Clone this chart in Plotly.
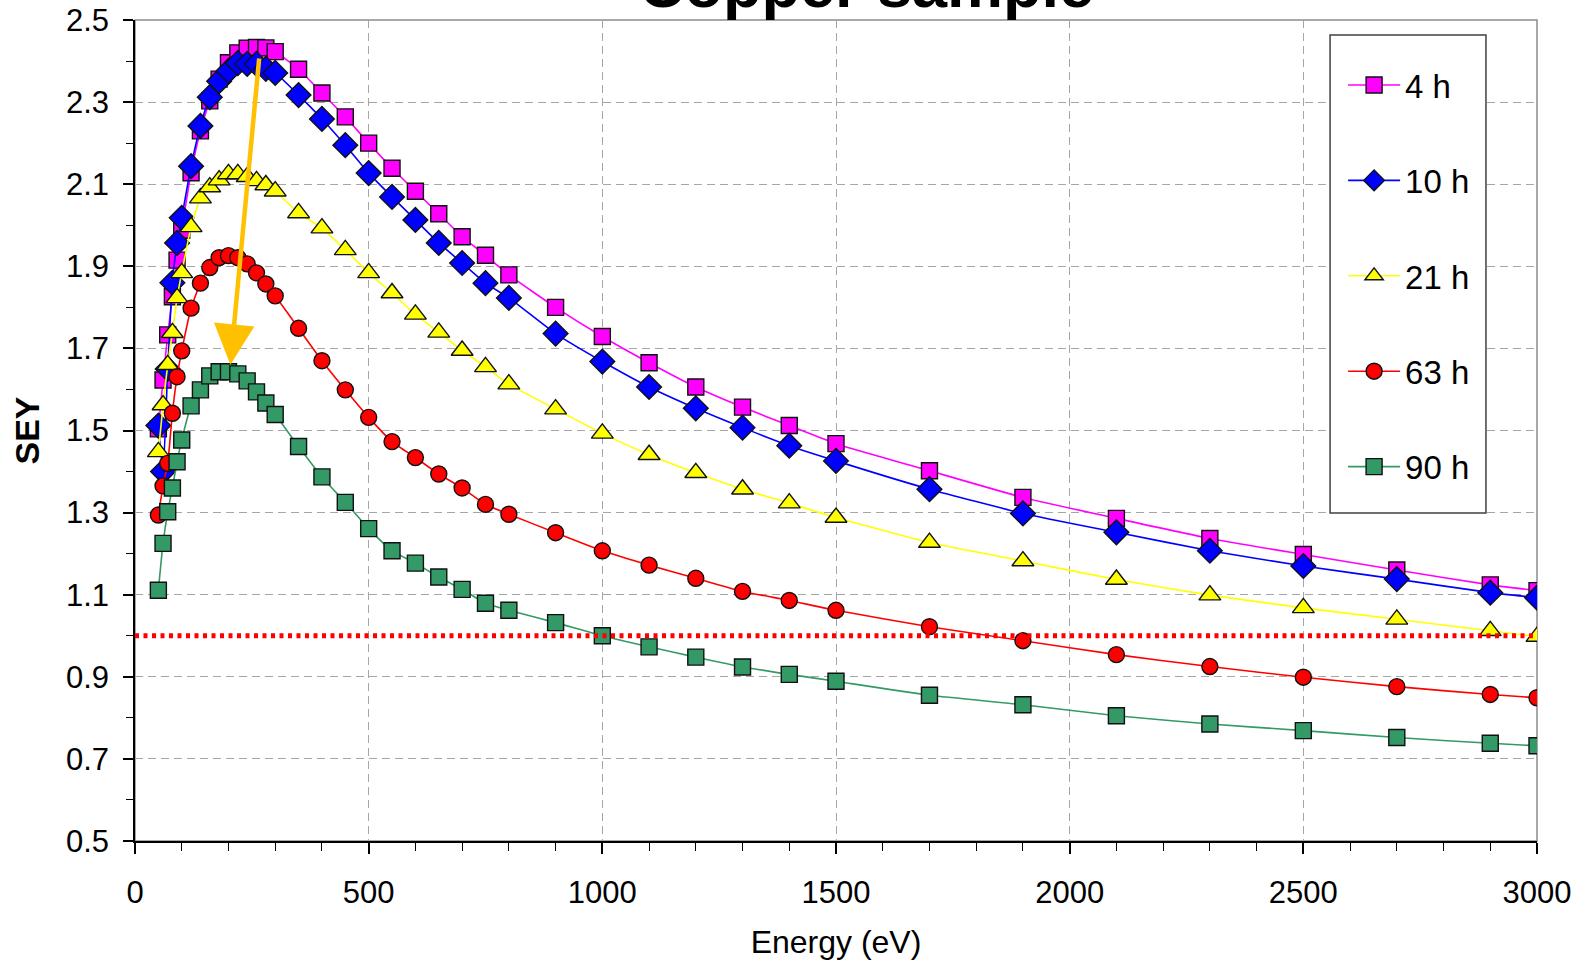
import plotly.graph_objects as go

energy = [50, 60, 70, 80, 90, 100, 120, 140, 160, 180, 200, 220, 240, 260, 280, 300,
          350, 400, 450, 500, 550, 600, 650, 700, 750, 800, 900, 1000, 1100, 1200,
          1300, 1400, 1500, 1700, 1900, 2100, 2300, 2500, 2700, 2900, 3000]

sey_4h = [1.504, 1.623, 1.733, 1.826, 1.915, 1.988, 2.128, 2.230, 2.303, 2.356, 2.396,
          2.420, 2.431, 2.433, 2.432, 2.423, 2.380, 2.322, 2.264, 2.200, 2.139, 2.083,
          2.028, 1.972, 1.927, 1.879, 1.800, 1.729, 1.665, 1.606, 1.557, 1.512, 1.468,
          1.402, 1.337, 1.286, 1.237, 1.198, 1.160, 1.124, 1.110]
sey_10h = [1.512, 1.400, 1.650, 1.860, 1.957, 2.018, 2.144, 2.242, 2.312, 2.351, 2.376,
           2.395, 2.393, 2.393, 2.381, 2.371, 2.317, 2.259, 2.195, 2.127, 2.069, 2.013,
           1.957, 1.908, 1.859, 1.823, 1.736, 1.668, 1.606, 1.554, 1.507, 1.463, 1.426,
           1.357, 1.298, 1.252, 1.207, 1.170, 1.138, 1.105, 1.093]
sey_21h = [1.448, 1.562, 1.660, 1.738, 1.823, 1.884, 1.996, 2.066, 2.093, 2.110, 2.125,
           2.125, 2.118, 2.108, 2.098, 2.083, 2.030, 1.993, 1.940, 1.884, 1.835, 1.783,
           1.739, 1.695, 1.655, 1.613, 1.552, 1.493, 1.441, 1.397, 1.357, 1.323, 1.288,
           1.227, 1.182, 1.137, 1.099, 1.068, 1.040, 1.012, 0.998]
sey_63h = [1.294, 1.365, 1.420, 1.542, 1.631, 1.694, 1.798, 1.859, 1.897, 1.921, 1.926,
           1.921, 1.906, 1.884, 1.857, 1.828, 1.749, 1.670, 1.599, 1.532, 1.473, 1.434,
           1.394, 1.360, 1.320, 1.296, 1.251, 1.207, 1.172, 1.140, 1.108, 1.086, 1.062,
           1.022, 0.988, 0.954, 0.925, 0.899, 0.876, 0.857, 0.849]
sey_90h = [1.111, 1.225, 1.302, 1.360, 1.424, 1.477, 1.560, 1.599, 1.633, 1.643, 1.643,
           1.638, 1.621, 1.594, 1.567, 1.539, 1.461, 1.387, 1.325, 1.261, 1.207, 1.177,
           1.143, 1.113, 1.079, 1.062, 1.032, 1.000, 0.973, 0.948, 0.924, 0.906, 0.889,
           0.855, 0.832, 0.805, 0.785, 0.769, 0.752, 0.738, 0.732]

series_names = ["4 h", "10 h", "21 h", "63 h", "90 h"]
series_values = [sey_4h, sey_10h, sey_21h, sey_63h, sey_90h]
series_colors = ["#FF00FF", "#0000FF", "#FFFF00", "#FF0000", "#339966"]
series_symbols = ["square", "diamond", "triangle-up", "circle", "square"]
series_sizes = [16, 19, 19, 16, 16]

threshold_x = [0, 3000]
threshold_y = [1.0, 1.0]

arrow_start = (266, 2.41)
arrow_end = (204, 1.66)

FONT = "Liberation Sans, Arial, sans-serif"

fig = go.Figure()
for name, vals, col, sym, sz in zip(series_names, series_values, series_colors,
                                     series_symbols, series_sizes):
    fig.add_trace(go.Scatter(
        x=energy, y=vals, name=name, mode="lines+markers",
        line=dict(color=col, width=1.6, shape="spline", smoothing=0.5),
        marker=dict(symbol=sym, size=sz, color=col,
                    line=dict(color="#111111", width=1.4)),
        legendgroup=name,
    ))

fig.add_trace(go.Scatter(
    x=threshold_x, y=threshold_y, mode="lines", showlegend=False,
    line=dict(color="#FF0000", width=5, dash="4px,4.5px"), hoverinfo="skip",
))

fig.add_annotation(
    x=arrow_end[0], y=arrow_end[1], ax=arrow_start[0], ay=arrow_start[1],
    xref="x", yref="y", axref="x", ayref="y", text="", showarrow=True,
    arrowhead=2, arrowsize=1.8, arrowwidth=4.5, arrowcolor="#FFC000",
)

fig.add_annotation(
    text="<b>Copper sample</b>", xref="paper", yref="paper", x=0.522, y=1.0,
    xanchor="center", yanchor="bottom", showarrow=False, yshift=-2,
    font=dict(size=63, color="black", family=FONT),
)

# plot-area border
fig.add_shape(type="rect", xref="paper", yref="paper", x0=0, y0=0, x1=1, y1=1,
              line=dict(color="#8C8C8C", width=1.5), layer="below")
# legend frame
fig.add_shape(type="rect", xref="paper", yref="paper",
              x0=0.8524, x1=0.9636, y0=0.3995, y1=0.9817,
              line=dict(color="#404040", width=1.5), fillcolor="white", layer="above")

fig.update_layout(
    width=1586, height=965,
    margin=dict(l=134.5, r=49, t=20, b=124),
    paper_bgcolor="white", plot_bgcolor="white",
    font=dict(family=FONT, color="black", size=31),
    showlegend=True,
    legend=dict(
        x=0.8617, y=0.9549, xanchor="left", yanchor="top",
        bgcolor="rgba(0,0,0,0)", borderwidth=0,
        font=dict(size=33, family=FONT), tracegroupgap=49.5,
        itemsizing="trace", itemwidth=52,
    ),
    xaxis=dict(
        range=[0, 3000], tickmode="array", tickvals=[0, 500, 1000, 1500, 2000, 2500, 3000],
        ticks="outside", ticklen=11, tickwidth=1.5, tickcolor="black",
        showline=True, linecolor="black", linewidth=1.5,
        showgrid=True, gridcolor="#A6A6A6", gridwidth=1.3, griddash="8px,5px",
        zeroline=False, ticklabelstandoff=12, automargin=False,
        tickfont=dict(size=31, family=FONT),
        minor=dict(dtick=100, tick0=0, ticks="outside", ticklen=8, tickwidth=1.3,
                   tickcolor="black", showgrid=False),
        title=dict(text="Energy (eV)", font=dict(size=32, family=FONT), standoff=22),
    ),
    yaxis=dict(
        range=[0.5, 2.5], tick0=0.5, dtick=0.2, tickformat=".1f",
        ticks="outside", ticklen=10, tickwidth=1.5, tickcolor="black",
        showline=True, linecolor="black", linewidth=1.5,
        showgrid=True, gridcolor="#A6A6A6", gridwidth=1.3, griddash="8px,5px",
        zeroline=False, ticklabelstandoff=8, automargin=False,
        tickfont=dict(size=31, family=FONT),
        minor=dict(dtick=0.1, tick0=0.5, ticks="outside", ticklen=7, tickwidth=1.3,
                   tickcolor="black", showgrid=False),
        title=dict(text="<b>SEY</b>", font=dict(size=34, family=FONT), standoff=16),
    ),
)

fig.write_html("out.html")
